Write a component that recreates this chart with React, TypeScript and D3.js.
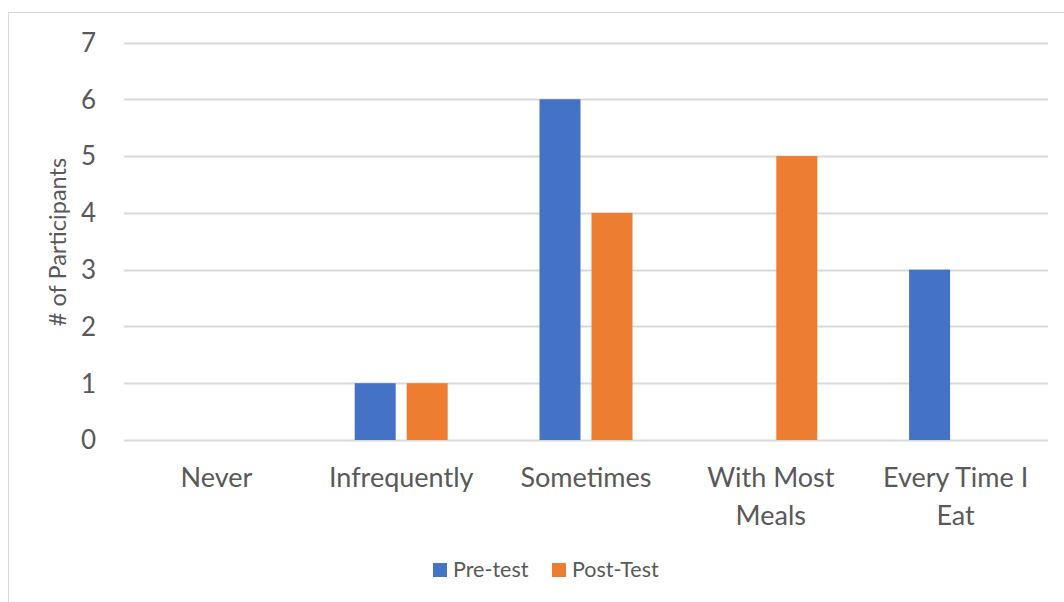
import React from "react";
import * as d3 from "d3";

const categories = ["Never", "Infrequently", "Sometimes", "With Most Meals", "Every Time I Eat"];
const categoryLines = [["Never"], ["Infrequently"], ["Sometimes"], ["With Most", "Meals"], ["Every Time I", "Eat"]];
const seriesNames = ["Pre-test", "Post-Test"];
const preTest = [0, 1, 6, 0, 3];
const postTest = [0, 1, 4, 5, 0];
const yTicks = [0, 1, 2, 3, 4, 5, 6, 7];

const W = 1064;
const H = 602;
const colors = ["#4472C4", "#ED7D31"];
const textColor = "#595959";
const gridColor = "#d9d9d9";
const font = "Lato, 'Open Sans', sans-serif";

export default function App() {
  const left = 124;
  const right = 1048;
  const top = 42.5;
  const bottom = 440;

  const x = d3.scaleBand<string>().domain(categories).range([left, right]).paddingInner(0).paddingOuter(0);
  const y = d3.scaleLinear().domain([0, 7]).range([bottom, top]);
  const barW = 41;
  const gap = 11;
  const series = [preTest, postTest];

  return (
    <svg width={W} height={H} style={{ position: "absolute", left: 0, top: 0, background: "#fff" }}>
      <path d={`M8.5,${H} V12.5 H${W}`} fill="none" stroke={gridColor} strokeWidth={1} />
      {yTicks.map((t) => (
        <g key={t}>
          <line x1={left} x2={right} y1={Math.round(y(t)) + 0.5} y2={Math.round(y(t)) + 0.5} stroke={gridColor} strokeWidth={2} />
          <text x={96} y={y(t)} dy="0.36em" textAnchor="end" fontFamily={font} fontSize={26} fill={textColor}>
            {t}
          </text>
        </g>
      ))}
      {series.map((vals, si) =>
        vals.map((v, ci) => {
          if (v === 0) return null;
          const cx = (x(categories[ci]) as number) + x.bandwidth() / 2;
          const x0 = si === 0 ? cx - gap / 2 - barW : cx + gap / 2;
          return <rect key={`${si}-${ci}`} x={x0} y={y(v)} width={barW} height={y(0) - y(v)} fill={colors[si]} />;
        })
      )}
      {categoryLines.map((lines, ci) => {
        const cx = (x(categories[ci]) as number) + x.bandwidth() / 2;
        return (
          <text key={ci} x={cx} y={487} textAnchor="middle" fontFamily={font} fontSize={27} fill={textColor}>
            {lines.map((l, li) => (
              <tspan key={li} x={cx} y={487 + li * 38}>
                {l}
              </tspan>
            ))}
          </text>
        );
      })}
      <text
        transform={`translate(66,242) rotate(-90)`}
        textAnchor="middle"
        fontFamily={font}
        fontSize={23.5}
        fill={textColor}
      >
        # of Participants
      </text>
      {seriesNames.map((name, i) => {
        const lx = i === 0 ? 433 : 552;
        return (
          <g key={name}>
            <rect x={lx} y={563} width={14} height={14} fill={colors[i]} />
            <text x={lx + 20} y={577} fontFamily={font} fontSize={21.5} fill={textColor}>
              {name}
            </text>
          </g>
        );
      })}
    </svg>
  );
}
